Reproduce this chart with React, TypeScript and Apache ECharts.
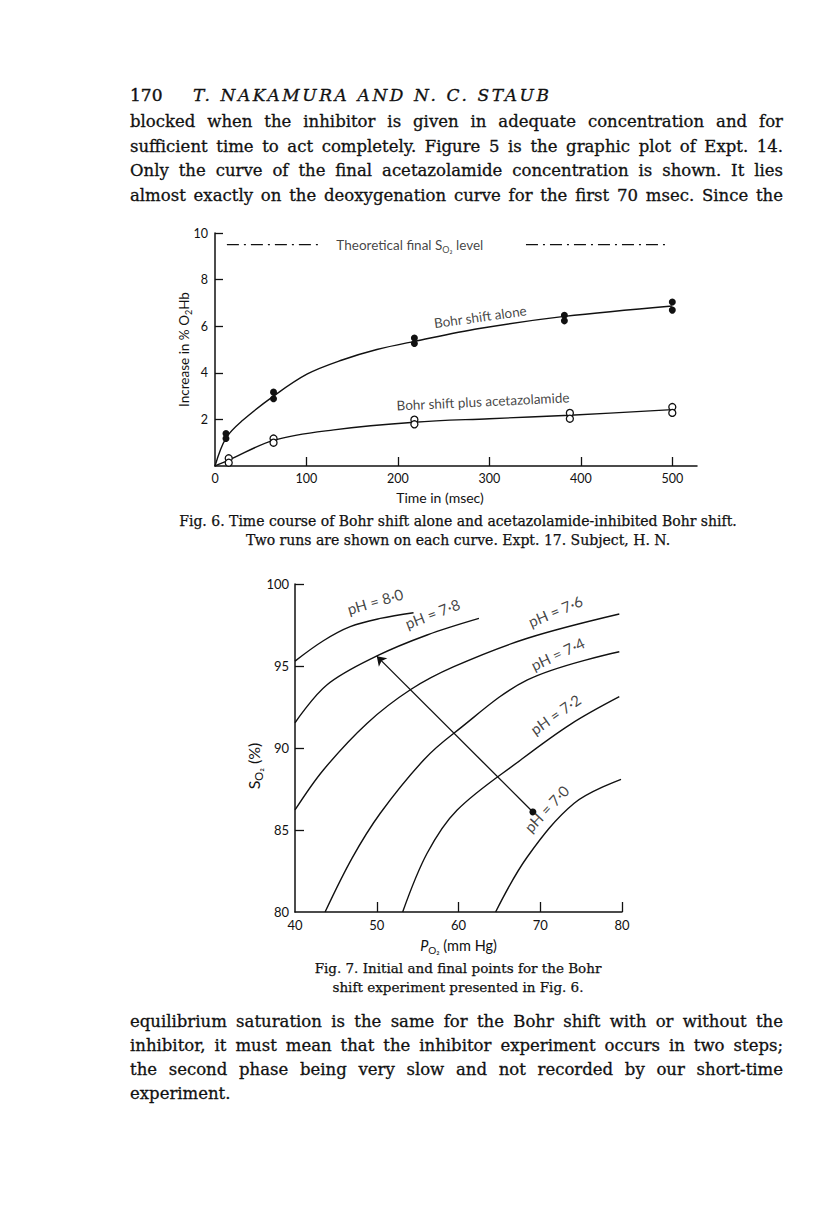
import React, { useEffect, useRef } from "react";
import * as echarts from "echarts";

// ---------- Fig. 6 data ----------
const fig6TimeLabels = [0, 100, 200, 300, 400, 500];
const fig6TimeTicks = [100, 200, 300, 400, 500];
const fig6IncreaseTicks = [2, 4, 6, 8, 10];
const bohrAloneRun1 = [[12, 1.39], [64, 3.17], [218, 5.49], [382, 6.47], [500, 7.04]];
const bohrAloneRun2 = [[12, 1.18], [64, 2.89], [218, 5.26], [382, 6.23], [500, 6.69]];
const acetazRun1 = [[15, 0.33], [64, 1.18], [218, 1.99], [388, 2.28], [500, 2.53]];
const acetazRun2 = [[15, 0.14], [64, 1.0], [218, 1.79], [388, 2.03], [500, 2.28]];
const bohrAloneCurve = [[0, 0], [12, 1.2], [30, 1.95], [64, 3.0], [101, 3.95], [139, 4.55], [177, 5.0], [218, 5.35], [289, 5.9], [382, 6.42], [500, 6.87]];
const acetazCurve = [[0, 0], [15, 0.25], [64, 1.1], [130, 1.55], [218, 1.88], [300, 2.03], [388, 2.18], [500, 2.42]];
const theoreticalLevel = 9.5;
const theoreticalSegments = [[13, 113], [340, 497]];

// ---------- Fig. 7 data ----------
const po2Labels = [40, 50, 60, 70, 80];
const po2Ticks = [50, 60, 70, 80];
const so2Labels = [80, 85, 90, 95, 100];
const so2Ticks = [85, 90, 95, 100];
const phNames = ["8·0", "7·8", "7·6", "7·4", "7·2", "7·0"];
const ph80 = [[40, 95.3], [43.47, 96.54], [46.75, 97.4], [50.43, 97.9], [54.5, 98.25]];
const ph78 = [[40, 91.54], [43.89, 93.84], [50.02, 95.61], [56.16, 96.89], [62.5, 97.9]];
const ph76 = [[40, 86.22], [43.47, 88.66], [48.8, 91.5], [54.2, 93.58], [59.43, 94.96], [68.43, 96.69], [79.67, 98.17]];
const ph74 = [[43.68, 80.0], [47.0, 83.3], [50.43, 86.02], [55.74, 89.27], [59.43, 90.9], [68.43, 94.15], [79.67, 95.87]];
const ph72 = [[53.17, 80.0], [56.16, 83.58], [59.84, 86.22], [67.6, 89.27], [73.74, 91.46], [79.67, 93.13]];
const ph70 = [[64.54, 80.0], [68.43, 83.37], [74.15, 86.63], [79.88, 88.09]];
const phCurves = [ph80, ph78, ph76, ph74, ph72, ph70];
const initialPoint = [69.1, 86.1];
const finalPoint = [50.0, 95.6];

// label placement (annotation anchors in data units + rotation)
const phLabelAnchors = [[49.8, 98.95, 16], [56.8, 98.2, 21], [71.85, 98.35, 23], [72.13, 95.75, 25], [71.85, 92.05, 35], [70.75, 86.3, 47]];

const INK = "#111";
const SANS = "Lato, 'Open Sans', sans-serif";

function buildOption(): any {
  const axisLine = { show: true, lineStyle: { color: INK, width: 1.5 } };
  const tickStyle = { color: INK, width: 1.3 };
  const mkRich = (fs: number) => ({
    a: { fontFamily: SANS, fontSize: fs, color: INK },
    s: { fontFamily: SANS, fontSize: Math.round(fs * 0.66), color: INK, padding: [Math.round(fs * 0.7), 0, 0, 0] },
    it: { fontFamily: SANS, fontSize: fs, color: INK, fontStyle: "italic" },
  });

  const labelPoint = (gi: number, value: number[], text: string, rotate: number, fontSize = 13.5) => ({
    type: "scatter",
    xAxisIndex: gi,
    yAxisIndex: gi,
    symbolSize: 0,
    silent: true,
    z: 5,
    data: [{ value }],
    label: {
      show: true,
      position: "inside",
      rotate,
      formatter: text,
      fontFamily: SANS,
      fontSize,
      color: INK,
      rich: mkRich(fontSize),
    },
  });

  const curve = (gi: number, data: number[][]) => ({
    type: "line", xAxisIndex: gi, yAxisIndex: gi, data, smooth: 0.35,
    symbol: "none", lineStyle: { color: INK, width: 1.4 }, z: 2,
  });

  const series: any[] = [];
  series.push(curve(0, bohrAloneCurve));
  series.push(curve(0, acetazCurve));
  theoreticalSegments.forEach((seg) => {
    series.push({
      type: "line", xAxisIndex: 0, yAxisIndex: 0,
      data: [[seg[0], theoreticalLevel], [seg[1], theoreticalLevel]],
      symbol: "none", lineStyle: { color: INK, width: 1.2, type: [12, 5, 2, 5] }, z: 2,
    });
  });
  [bohrAloneRun1, bohrAloneRun2].forEach((d) => {
    series.push({
      type: "scatter", xAxisIndex: 0, yAxisIndex: 0, data: d, symbol: "circle", symbolSize: 7,
      itemStyle: { color: INK, opacity: 1 }, z: 4,
    });
  });
  [acetazRun1, acetazRun2].forEach((d) => {
    series.push({
      type: "scatter", xAxisIndex: 0, yAxisIndex: 0, data: d, symbol: "circle", symbolSize: 7,
      itemStyle: { color: "#fff", borderColor: INK, borderWidth: 1.3, opacity: 1 }, z: 4,
    });
  });
  series.push(labelPoint(0, [213, 9.47], "{a|Theoretical final S}{s|O₂}{a| level}", 0));
  series.push(labelPoint(0, [290, 6.4], "Bohr shift alone", 8));
  series.push(labelPoint(0, [293, 2.77], "Bohr shift plus acetazolamide", 2.7));

  phCurves.forEach((c) => series.push(curve(1, c)));
  series.push({
    type: "lines", coordinateSystem: "cartesian2d", xAxisIndex: 1, yAxisIndex: 1,
    symbol: ["circle", "arrow"], symbolSize: [7, 9],
    lineStyle: { color: INK, width: 1.3, opacity: 1 },
    data: [{ coords: [initialPoint, finalPoint] }], z: 3,
  });
  phNames.forEach((n, i) => {
    const a = phLabelAnchors[i];
    series.push(labelPoint(1, [a[0], a[1]], "pH = " + n, a[2], 15));
  });

  const tickLabel = { color: INK, fontFamily: SANS, fontSize: 12.5 };

  return {
    animation: false,
    backgroundColor: "#fff",
    grid: [
      { left: 215, top: 233, width: 482, height: 233, outerBoundsMode: "none" },
      { left: 295, top: 584, width: 327, height: 328, outerBoundsMode: "none" },
    ],
    xAxis: [
      {
        type: "value", gridIndex: 0, min: 0, max: 527,
        axisLine, splitLine: { show: false },
        axisTick: { show: true, inside: true, length: 9, lineStyle: tickStyle, customValues: fig6TimeTicks },
        axisLabel: { ...tickLabel, margin: 6, customValues: fig6TimeLabels },
        name: "Time in (msec)", nameLocation: "middle", nameGap: 24,
        nameTextStyle: { fontFamily: SANS, fontSize: 14, color: INK, padding: [0, 32, 0, 0] },
        nameMoveOverlap: false,
      },
      {
        type: "value", gridIndex: 1, min: 40, max: 80,
        axisLine, splitLine: { show: false },
        axisTick: { show: true, inside: true, length: 10, lineStyle: tickStyle, customValues: po2Ticks },
        axisLabel: { ...tickLabel, fontSize: 13, margin: 6, customValues: po2Labels },
        name: "{it|P}{s|O₂}{a| (mm Hg)}", nameLocation: "middle", nameGap: 23,
        nameTextStyle: { fontFamily: SANS, fontSize: 14.5, color: INK, rich: mkRich(14.5) },
        nameMoveOverlap: false,
      },
    ],
    yAxis: [
      {
        type: "value", gridIndex: 0, min: 0, max: 10,
        axisLine, splitLine: { show: false },
        axisTick: { show: true, inside: true, length: 8, lineStyle: tickStyle, customValues: fig6IncreaseTicks },
        axisLabel: { ...tickLabel, margin: 7, customValues: fig6IncreaseTicks },
        name: "{a|Increase in % O}{s|2}{a|Hb}", nameLocation: "middle", nameGap: 22, nameRotate: 90,
        nameTextStyle: { fontFamily: SANS, fontSize: 13.5, color: INK, rich: mkRich(13.5) },
        nameMoveOverlap: false,
      },
      {
        type: "value", gridIndex: 1, min: 80, max: 100,
        axisLine, splitLine: { show: false },
        axisTick: { show: true, inside: true, length: 9, lineStyle: tickStyle, customValues: so2Ticks },
        axisLabel: { ...tickLabel, fontSize: 13, margin: 6, customValues: so2Labels },
        name: "{a|S}{s|O₂}{a| (%)}", nameLocation: "middle", nameGap: 31, nameRotate: 90,
        nameTextStyle: { fontFamily: SANS, fontSize: 16, color: INK, rich: mkRich(16), padding: [0, 36, 0, 0] },
        nameMoveOverlap: false,
      },
    ],
    series,
  };
}

const bodyFont: React.CSSProperties = {
  fontFamily: "'DejaVu Serif', serif",
  fontSize: 16.5,
  color: "#111",
  WebkitTextStroke: "0.3px #111",
};

function JLine({ y, text, justify = true }: { y: number; text: string; justify?: boolean }) {
  return (
    <div
      style={{
        ...bodyFont,
        position: "absolute",
        left: 130,
        top: y - 11,
        width: 653,
        lineHeight: "20px",
        textAlign: justify ? "justify" : "left",
        textAlignLast: justify ? "justify" : "left",
        whiteSpace: "nowrap",
      }}
    >
      {text}
    </div>
  );
}

function CLine({ y, text, size }: { y: number; text: string; size: number }) {
  return (
    <div
      style={{
        fontFamily: "'DejaVu Serif', serif",
        fontSize: size,
        color: "#111",
        WebkitTextStroke: "0.25px #111",
        position: "absolute",
        left: 0,
        width: 916,
        textAlign: "center",
        top: y - 9,
        lineHeight: "18px",
        whiteSpace: "nowrap",
      }}
    >
      {text}
    </div>
  );
}

export default function App() {
  const ref = useRef<HTMLDivElement>(null);
  useEffect(() => {
    if (!ref.current) return;
    const chart = echarts.init(ref.current, undefined, { renderer: "svg" });
    chart.setOption(buildOption());
    return () => chart.dispose();
  }, []);

  return (
    <div style={{ position: "absolute", left: 0, top: 0, width: 816, height: 1221, background: "#fff", overflow: "hidden" }}>
      <div ref={ref} style={{ position: "absolute", left: 0, top: 0, width: 816, height: 1221 }} />
      <div style={{ ...bodyFont, position: "absolute", left: 130, top: 85, lineHeight: "20px", fontSize: 17, WebkitTextStroke: "0.4px #111" }}>170</div>
      <div style={{ ...bodyFont, position: "absolute", left: 193, top: 85, lineHeight: "20px", fontStyle: "italic", fontSize: 17, letterSpacing: "2.6px" }}>
        T. NAKAMURA AND N. C. STAUB
      </div>
      <JLine y={123} text="blocked when the inhibitor is given in adequate concentration and for" />
      <JLine y={148} text="sufficient time to act completely.  Figure 5 is the graphic plot of Expt. 14." />
      <JLine y={172} text="Only the curve of the final acetazolamide concentration is shown.  It lies" />
      <JLine y={197} text="almost exactly on the deoxygenation curve for the first 70 msec.  Since the" />
      <CLine y={521} size={14} text="Fig. 6. Time course of Bohr shift alone and acetazolamide-inhibited Bohr shift." />
      <CLine y={540} size={14} text="Two runs are shown on each curve.  Expt. 17.  Subject, H. N." />
      <CLine y={968} size={13.5} text="Fig. 7.  Initial and final points for the Bohr" />
      <CLine y={987} size={13.5} text="shift experiment presented in Fig. 6." />
      <JLine y={1023} text="equilibrium saturation is the same for the Bohr shift with or without the" />
      <JLine y={1047} text="inhibitor, it must mean that the inhibitor experiment occurs in two steps;" />
      <JLine y={1071} text="the second phase being very slow and not recorded by our short-time" />
      <JLine y={1095} text="experiment." justify={false} />
    </div>
  );
}
